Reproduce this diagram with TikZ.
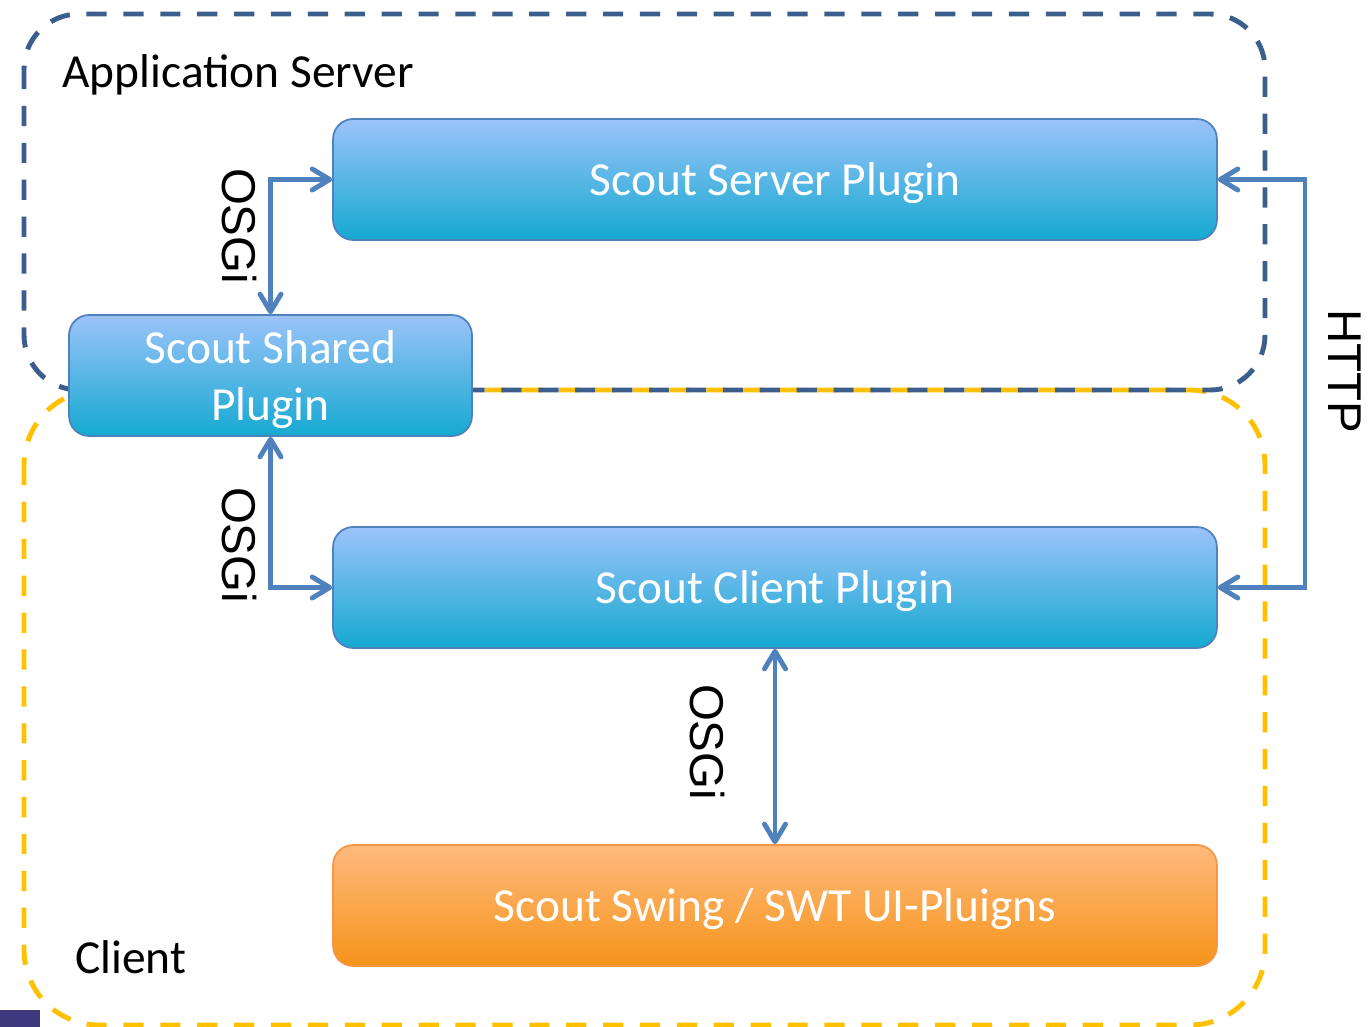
\documentclass[tikz,border=0pt]{standalone}
\usepackage{fontspec}
\setmainfont{Carlito}
\newfontfamily\arialfont{Liberation Sans}
\usepackage{xcolor}
\usepackage{tikz}
\usetikzlibrary{positioning,calc,arrows.meta}

\definecolor{srvdash}{HTML}{3B5E8C}
\definecolor{cltdash}{HTML}{FFC000}
\definecolor{plugtop}{HTML}{9CC3FA}
\definecolor{plugbot}{HTML}{14A9D0}
\definecolor{plugline}{HTML}{4F81BD}
\definecolor{uitop}{HTML}{FEBA7C}
\definecolor{uibot}{HTML}{F6941B}
\definecolor{uiline}{HTML}{F79646}
\definecolor{corner}{HTML}{3F3A80}

\begin{document}
\begin{tikzpicture}[x=0.02cm, y=-0.02cm,
    zone/.style={line width=2.8pt, dash pattern=on 11.5pt off 9.5pt},
    plugin/.style={rectangle, rounded corners=0.4cm, draw=plugline, line width=1pt,
        top color=plugtop, bottom color=plugbot, text=white, align=center,
        minimum height=2.42cm, inner sep=0pt, text depth=0pt,
        font=\fontsize{27}{32.5}\selectfont},
    uiplugin/.style={plugin, draw=uiline, top color=uitop, bottom color=uibot},
    conn/.style={draw=plugline, line width=2.8pt,
        {Straight Barb[length=10pt,width=12pt,round]}-{Straight Barb[length=10pt,width=12pt,round]}},
    proto/.style={rotate=-90, inner sep=0pt, font=\arialfont\fontsize{27}{32}\selectfont},
    zonelabel/.style={anchor=base west, inner sep=0pt, font=\fontsize{27}{32}\selectfont}]
    \useasboundingbox (0,0) rectangle (1369,1027);

    % Zones
    \draw[zone, cltdash, rounded corners=1.5cm] (24,390) rectangle (1265,1025);
    \draw[zone, srvdash, rounded corners=1.1cm] (24,14) rectangle (1265,390);
    \node[zonelabel] (appsrv) at (62,88) {Application Server};
    \node[zonelabel] (client) at (75,973) {Client};

    % Plugins
    \node[plugin, minimum width=17.68cm] (server) at (775,179.5) {Scout Server Plugin};
    \node[plugin, minimum width=8.06cm] (shared) at (270.5,375.5) {Scout Shared\\Plugin};
    \node[plugin, minimum width=17.68cm] (clientplug) at (775,587.5) {Scout Client Plugin};
    \node[uiplugin, minimum width=17.68cm] (ui) at (775,905.5) {Scout Swing / SWT UI-Pluigns};

    % OSGi links
    \draw[conn] (shared.north) |- (server.west);
    \draw[conn] (shared.south) |- (clientplug.west);
    \draw[conn] (clientplug.south) -- (ui.north);
    \node[proto] (osgia) at (239,226) {OSGi};
    \node[proto] (osgib) at (239,545) {OSGi};
    \node[proto] (osgic) at (707,742) {OSGi};

    % HTTP link
    \coordinate (httpx) at (1305,0);
    \draw[conn] (server.east) -- (server.east -| httpx) -- (clientplug.east -| httpx) -- (clientplug.east);
    \node[proto] (http) at (1345,371) {HTTP};

    \fill[corner] (0,1010) rectangle (40,1027);
\end{tikzpicture}
\end{document}
